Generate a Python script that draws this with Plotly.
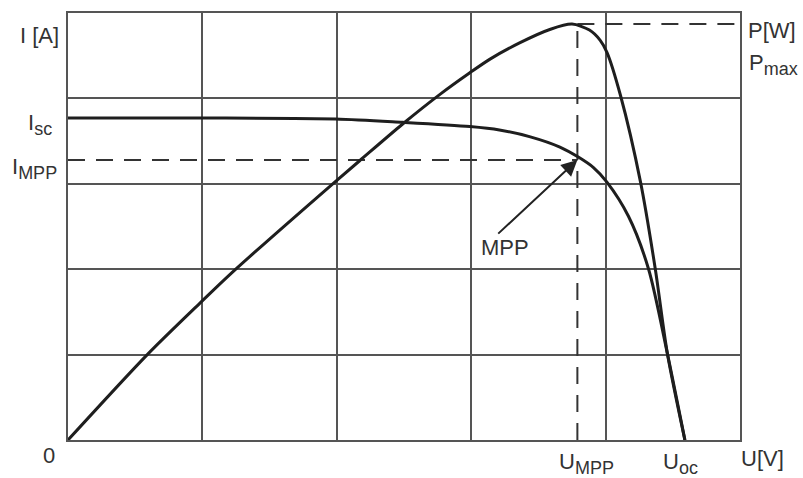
import plotly.graph_objects as go

# Voltage axis samples (relative units, grid step = 1)
u_iv = [0.0, 0.98, 1.99, 2.49, 2.99, 3.21, 3.44, 3.66, 3.80, 3.91, 4.01, 4.17, 4.32, 4.46, 4.59]
i_iv = [3.77, 3.77, 3.76, 3.72, 3.67, 3.63, 3.55, 3.43, 3.31, 3.19, 3.02, 2.62, 2.00, 1.01, 0.0]

u_pv = [0.0, 0.59, 0.98, 1.22, 1.97, 2.17, 2.49, 2.77, 2.99, 3.14, 3.36, 3.59, 3.75,
        3.88, 3.96, 4.01, 4.11, 4.26, 4.37, 4.46, 4.59]
p_pv = [0.0, 1.00, 1.60, 1.96, 3.00, 3.27, 3.70, 4.05, 4.30, 4.46, 4.65, 4.81, 4.87,
        4.80, 4.68, 4.54, 4.04, 3.02, 2.00, 1.01, 0.0]

# Maximum power point
u_mpp = 3.79
i_mpp = 3.28
p_max = 4.87
u_oc = 4.59

GRID = "#555555"
CURVE = "#1e1e1e"
TEXT = "#333333"
FONT = "Liberation Sans, Arial, sans-serif"
SIZE = 22

fig = go.Figure()

# Dashed guides to the MPP
dash = dict(color="#333333", width=2, dash="17px,11px")
fig.add_trace(go.Scatter(x=[0, u_mpp], y=[i_mpp, i_mpp], mode="lines", line=dash,
                         hoverinfo="skip"))
fig.add_trace(go.Scatter(x=[u_mpp, u_mpp], y=[0, p_max], mode="lines", line=dash,
                         hoverinfo="skip"))
fig.add_trace(go.Scatter(x=[u_mpp, 4.98], y=[p_max, p_max], mode="lines", line=dash,
                         hoverinfo="skip"))

# I-V and P-V curves
fig.add_trace(go.Scatter(x=u_iv, y=i_iv, mode="lines",
                         line=dict(color=CURVE, width=3, shape="spline", smoothing=0.8)))
fig.add_trace(go.Scatter(x=u_pv, y=p_pv, mode="lines",
                         line=dict(color=CURVE, width=3, shape="spline", smoothing=0.8)))

axis = dict(range=[0, 5], dtick=1, showgrid=True, gridcolor=GRID, gridwidth=2,
            zeroline=False, showline=True, linecolor=GRID, linewidth=2, mirror=True,
            showticklabels=False, ticks="", fixedrange=True)

fig.update_layout(
    width=803, height=478,
    margin=dict(l=68, r=63, t=13, b=38),
    paper_bgcolor="white", plot_bgcolor="white",
    showlegend=False,
    xaxis=axis, yaxis=axis,
    font=dict(family=FONT, size=SIZE, color=TEXT),
)

X_SPAN = 5.0
Y_SPAN = 5.0


def sub(main, low):
    return f'{main}<sub><span style="font-size:18px">{low}</span></sub>'


def label(x, y, text):
    # positions given in axis units, placed via paper coords so they may sit outside the frame
    fig.add_annotation(x=x / X_SPAN, y=y / Y_SPAN, xref="paper", yref="paper",
                       text=text, showarrow=False, xanchor="center", yanchor="middle",
                       font=dict(family=FONT, size=SIZE, color=TEXT))


label(-0.21, 4.74, "I [A]")
label(-0.21, 3.70, sub("I", "sc"))
label(-0.25, 3.18, sub("I", "MPP"))
label(-0.14, -0.18, "0")
label(u_mpp + 0.07, -0.27, sub("U", "MPP"))
label(u_oc - 0.03, -0.27, sub("U", "oc"))
label(5.17, -0.22, "U[V]")
label(5.24, 4.80, "P[W]")
label(5.25, 4.40, sub("P", "max"))

# Arrow pointing at the MPP
fig.add_annotation(x=u_mpp, y=i_mpp, xref="x", yref="y",
                   ax=3.19, ay=2.40, axref="x", ayref="y",
                   showarrow=True, arrowhead=2, arrowsize=1.6, arrowwidth=2,
                   arrowcolor="#222222", standoff=0, text="")
label(3.25, 2.25, "MPP")

fig.write_html("out.html")
